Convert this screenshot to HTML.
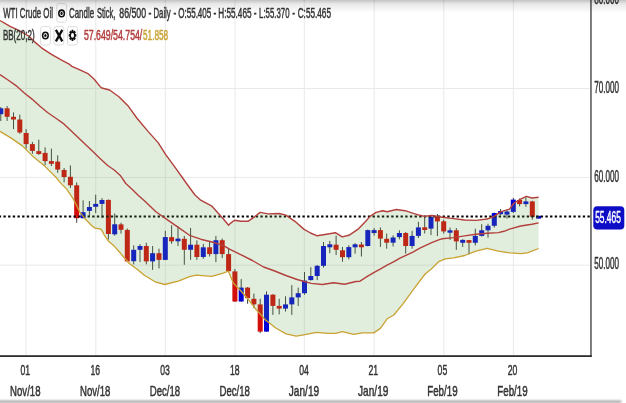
<!DOCTYPE html>
<html lang="en"><head><meta charset="utf-8"><title>WTI Crude Oil</title>
<style>
html,body{margin:0;padding:0;background:#fff;}
body{width:626px;height:403px;overflow:hidden;position:relative;font-family:"Liberation Sans",sans-serif;}
svg{position:absolute;left:0;top:0;display:block;}
text{font-family:"Liberation Sans",sans-serif;}
</style></head><body>
<svg width="626" height="403" viewBox="0 0 626 403">
<defs>
<linearGradient id="topsh" x1="0" y1="0" x2="0" y2="1"><stop offset="0" stop-color="#000" stop-opacity="0.24"/><stop offset="0.3" stop-color="#000" stop-opacity="0.09"/><stop offset="1" stop-color="#000" stop-opacity="0"/></linearGradient>
<filter id="soft" x="-5%" y="-5%" width="110%" height="110%"><feGaussianBlur stdDeviation="0.55"/></filter>
<filter id="bsh" x="-5%" y="-200%" width="110%" height="500%"><feGaussianBlur stdDeviation="0.8"/></filter>
</defs>
<rect width="626" height="403" fill="#fff"/>
<g filter="url(#soft)">

<g stroke="#e9e9e9" stroke-width="1" fill="none">
<line x1="26.1" y1="0" x2="26.1" y2="355"/>
<line x1="95.8" y1="0" x2="95.8" y2="355"/>
<line x1="165.3" y1="0" x2="165.3" y2="355"/>
<line x1="235" y1="0" x2="235" y2="355"/>
<line x1="304.3" y1="0" x2="304.3" y2="355"/>
<line x1="374.2" y1="0" x2="374.2" y2="355"/>
<line x1="443.8" y1="0" x2="443.8" y2="355"/>
<line x1="513.4" y1="0" x2="513.4" y2="355"/>
<line x1="0" y1="88.5" x2="590" y2="88.5"/>
<line x1="0" y1="177.4" x2="590" y2="177.4"/>
<line x1="0" y1="265.2" x2="590" y2="265.2"/>
</g>
<g>
<line x1="0.8" y1="107.0" x2="0.8" y2="121.0" stroke="#3c3c3c" stroke-width="1"/>
<rect x="-1.7" y="108.3" width="5.0" height="5.9" fill="#0505d6"/>
<line x1="7.1" y1="106.1" x2="7.1" y2="120.9" stroke="#3c3c3c" stroke-width="1"/>
<rect x="4.6" y="108.3" width="5.0" height="8.5" fill="#d40808"/>
<line x1="13.5" y1="112.4" x2="13.5" y2="129.1" stroke="#3c3c3c" stroke-width="1"/>
<rect x="11.0" y="116.8" width="5.0" height="2.7" fill="#d40808"/>
<line x1="19.8" y1="114.6" x2="19.8" y2="133.8" stroke="#3c3c3c" stroke-width="1"/>
<rect x="17.3" y="119.5" width="5.0" height="13.0" fill="#d40808"/>
<line x1="26.1" y1="129.1" x2="26.1" y2="148.6" stroke="#3c3c3c" stroke-width="1"/>
<rect x="23.6" y="133.0" width="5.0" height="11.1" fill="#d40808"/>
<line x1="32.4" y1="141.9" x2="32.4" y2="153.8" stroke="#3c3c3c" stroke-width="1"/>
<rect x="29.9" y="144.1" width="5.0" height="6.8" fill="#d40808"/>
<line x1="38.8" y1="139.7" x2="38.8" y2="154.9" stroke="#3c3c3c" stroke-width="1"/>
<rect x="36.3" y="151.1" width="5.0" height="2.9" fill="#d40808"/>
<line x1="45.1" y1="147.3" x2="45.1" y2="165.2" stroke="#3c3c3c" stroke-width="1"/>
<rect x="42.6" y="152.9" width="5.0" height="8.2" fill="#d40808"/>
<line x1="51.4" y1="148.6" x2="51.4" y2="166.0" stroke="#3c3c3c" stroke-width="1"/>
<rect x="48.9" y="161.1" width="5.0" height="2.7" fill="#d40808"/>
<line x1="57.7" y1="155.3" x2="57.7" y2="172.8" stroke="#3c3c3c" stroke-width="1"/>
<rect x="55.2" y="161.6" width="5.0" height="8.0" fill="#d40808"/>
<line x1="64.1" y1="168.0" x2="64.1" y2="182.4" stroke="#3c3c3c" stroke-width="1"/>
<rect x="61.6" y="170.0" width="5.0" height="7.0" fill="#d40808"/>
<line x1="70.4" y1="165.4" x2="70.4" y2="188.0" stroke="#3c3c3c" stroke-width="1"/>
<rect x="67.9" y="176.8" width="5.0" height="8.5" fill="#d40808"/>
<line x1="76.7" y1="182.4" x2="76.7" y2="222.7" stroke="#3c3c3c" stroke-width="1"/>
<rect x="74.2" y="185.3" width="5.0" height="32.9" fill="#d40808"/>
<line x1="83.1" y1="200.3" x2="83.1" y2="218.5" stroke="#3c3c3c" stroke-width="1"/>
<rect x="80.6" y="212.2" width="5.0" height="6.0" fill="#0505d6"/>
<line x1="89.4" y1="201.0" x2="89.4" y2="216.0" stroke="#3c3c3c" stroke-width="1"/>
<rect x="86.9" y="207.0" width="5.0" height="3.9" fill="#0505d6"/>
<line x1="95.7" y1="194.7" x2="95.7" y2="213.1" stroke="#3c3c3c" stroke-width="1"/>
<rect x="93.2" y="203.9" width="5.0" height="2.9" fill="#0505d6"/>
<line x1="102.0" y1="198.1" x2="102.0" y2="218.2" stroke="#3c3c3c" stroke-width="1"/>
<rect x="99.5" y="200.0" width="5.0" height="3.9" fill="#0505d6"/>
<line x1="108.4" y1="199.5" x2="108.4" y2="239.5" stroke="#3c3c3c" stroke-width="1"/>
<rect x="105.9" y="199.9" width="5.0" height="34.1" fill="#d40808"/>
<line x1="114.7" y1="213.5" x2="114.7" y2="235.7" stroke="#3c3c3c" stroke-width="1"/>
<rect x="112.2" y="224.3" width="5.0" height="10.0" fill="#0505d6"/>
<line x1="121.0" y1="222.7" x2="121.0" y2="233.7" stroke="#3c3c3c" stroke-width="1"/>
<rect x="118.5" y="224.4" width="5.0" height="5.4" fill="#d40808"/>
<line x1="127.3" y1="228.5" x2="127.3" y2="262.0" stroke="#3c3c3c" stroke-width="1"/>
<rect x="124.8" y="229.9" width="5.0" height="31.5" fill="#d40808"/>
<line x1="133.7" y1="245.3" x2="133.7" y2="264.4" stroke="#3c3c3c" stroke-width="1"/>
<rect x="131.2" y="249.8" width="5.0" height="11.4" fill="#0505d6"/>
<line x1="140.0" y1="244.2" x2="140.0" y2="262.1" stroke="#3c3c3c" stroke-width="1"/>
<rect x="137.5" y="246.0" width="5.0" height="3.8" fill="#0505d6"/>
<line x1="146.3" y1="242.7" x2="146.3" y2="264.4" stroke="#3c3c3c" stroke-width="1"/>
<rect x="143.8" y="246.0" width="5.0" height="15.4" fill="#d40808"/>
<line x1="152.6" y1="246.0" x2="152.6" y2="269.9" stroke="#3c3c3c" stroke-width="1"/>
<rect x="150.1" y="253.2" width="5.0" height="8.2" fill="#0505d6"/>
<line x1="159.0" y1="248.7" x2="159.0" y2="268.4" stroke="#3c3c3c" stroke-width="1"/>
<rect x="156.5" y="253.2" width="5.0" height="6.7" fill="#d40808"/>
<line x1="165.3" y1="230.8" x2="165.3" y2="260.2" stroke="#3c3c3c" stroke-width="1"/>
<rect x="162.8" y="237.1" width="5.0" height="22.8" fill="#0505d6"/>
<line x1="171.6" y1="225.2" x2="171.6" y2="243.8" stroke="#3c3c3c" stroke-width="1"/>
<rect x="169.1" y="237.1" width="5.0" height="4.2" fill="#d40808"/>
<line x1="178.0" y1="226.3" x2="178.0" y2="246.0" stroke="#3c3c3c" stroke-width="1"/>
<rect x="175.5" y="238.6" width="5.0" height="2.7" fill="#0505d6"/>
<line x1="184.3" y1="235.9" x2="184.3" y2="264.8" stroke="#3c3c3c" stroke-width="1"/>
<rect x="181.8" y="238.8" width="5.0" height="11.0" fill="#d40808"/>
<line x1="190.6" y1="227.9" x2="190.6" y2="259.9" stroke="#3c3c3c" stroke-width="1"/>
<rect x="188.1" y="244.7" width="5.0" height="5.1" fill="#0505d6"/>
<line x1="196.9" y1="240.4" x2="196.9" y2="259.9" stroke="#3c3c3c" stroke-width="1"/>
<rect x="194.4" y="244.7" width="5.0" height="12.3" fill="#d40808"/>
<line x1="203.3" y1="243.8" x2="203.3" y2="258.8" stroke="#3c3c3c" stroke-width="1"/>
<rect x="200.8" y="247.3" width="5.0" height="9.7" fill="#0505d6"/>
<line x1="209.6" y1="240.9" x2="209.6" y2="256.5" stroke="#3c3c3c" stroke-width="1"/>
<rect x="207.1" y="247.3" width="5.0" height="6.8" fill="#d40808"/>
<line x1="215.9" y1="235.9" x2="215.9" y2="262.1" stroke="#3c3c3c" stroke-width="1"/>
<rect x="213.4" y="240.2" width="5.0" height="13.9" fill="#0505d6"/>
<line x1="222.2" y1="238.6" x2="222.2" y2="258.1" stroke="#3c3c3c" stroke-width="1"/>
<rect x="219.7" y="240.2" width="5.0" height="13.9" fill="#d40808"/>
<line x1="228.6" y1="248.7" x2="228.6" y2="272.0" stroke="#3c3c3c" stroke-width="1"/>
<rect x="226.1" y="254.1" width="5.0" height="17.1" fill="#d40808"/>
<line x1="234.9" y1="269.0" x2="234.9" y2="302.0" stroke="#3c3c3c" stroke-width="1"/>
<rect x="232.4" y="271.4" width="5.0" height="30.1" fill="#d40808"/>
<line x1="241.2" y1="279.1" x2="241.2" y2="301.8" stroke="#3c3c3c" stroke-width="1"/>
<rect x="238.7" y="287.6" width="5.0" height="13.9" fill="#0505d6"/>
<line x1="247.6" y1="287.0" x2="247.6" y2="303.7" stroke="#3c3c3c" stroke-width="1"/>
<rect x="245.1" y="287.6" width="5.0" height="10.5" fill="#d40808"/>
<line x1="253.9" y1="293.6" x2="253.9" y2="308.2" stroke="#3c3c3c" stroke-width="1"/>
<rect x="251.4" y="298.8" width="5.0" height="5.6" fill="#d40808"/>
<line x1="260.2" y1="298.8" x2="260.2" y2="333.0" stroke="#3c3c3c" stroke-width="1"/>
<rect x="257.7" y="304.4" width="5.0" height="27.2" fill="#d40808"/>
<line x1="266.5" y1="291.4" x2="266.5" y2="331.9" stroke="#3c3c3c" stroke-width="1"/>
<rect x="264.0" y="294.7" width="5.0" height="36.9" fill="#0505d6"/>
<line x1="272.9" y1="294.2" x2="272.9" y2="314.9" stroke="#3c3c3c" stroke-width="1"/>
<rect x="270.4" y="294.7" width="5.0" height="11.2" fill="#d40808"/>
<line x1="279.2" y1="298.8" x2="279.2" y2="314.4" stroke="#3c3c3c" stroke-width="1"/>
<rect x="276.7" y="305.9" width="5.0" height="2.7" fill="#d40808"/>
<line x1="285.5" y1="296.3" x2="285.5" y2="311.5" stroke="#3c3c3c" stroke-width="1"/>
<rect x="283.0" y="304.4" width="5.0" height="4.2" fill="#0505d6"/>
<line x1="291.8" y1="285.1" x2="291.8" y2="314.9" stroke="#3c3c3c" stroke-width="1"/>
<rect x="289.3" y="297.4" width="5.0" height="7.0" fill="#0505d6"/>
<line x1="298.2" y1="287.6" x2="298.2" y2="305.9" stroke="#3c3c3c" stroke-width="1"/>
<rect x="295.7" y="293.2" width="5.0" height="4.2" fill="#0505d6"/>
<line x1="304.5" y1="272.0" x2="304.5" y2="294.7" stroke="#3c3c3c" stroke-width="1"/>
<rect x="302.0" y="280.6" width="5.0" height="12.6" fill="#0505d6"/>
<line x1="310.8" y1="267.2" x2="310.8" y2="280.5" stroke="#3c3c3c" stroke-width="1"/>
<rect x="308.3" y="276.0" width="5.0" height="4.1" fill="#0505d6"/>
<line x1="317.2" y1="265.0" x2="317.2" y2="280.1" stroke="#3c3c3c" stroke-width="1"/>
<rect x="314.7" y="265.8" width="5.0" height="10.2" fill="#0505d6"/>
<line x1="323.5" y1="242.0" x2="323.5" y2="267.6" stroke="#3c3c3c" stroke-width="1"/>
<rect x="321.0" y="246.0" width="5.0" height="19.8" fill="#0505d6"/>
<line x1="329.8" y1="240.9" x2="329.8" y2="253.2" stroke="#3c3c3c" stroke-width="1"/>
<rect x="327.3" y="244.3" width="5.0" height="3.0" fill="#0505d6"/>
<line x1="336.1" y1="235.7" x2="336.1" y2="255.0" stroke="#3c3c3c" stroke-width="1"/>
<rect x="333.6" y="244.7" width="5.0" height="5.1" fill="#d40808"/>
<line x1="342.5" y1="246.9" x2="342.5" y2="261.7" stroke="#3c3c3c" stroke-width="1"/>
<rect x="340.0" y="250.3" width="5.0" height="6.9" fill="#d40808"/>
<line x1="348.8" y1="245.3" x2="348.8" y2="259.4" stroke="#3c3c3c" stroke-width="1"/>
<rect x="346.3" y="247.1" width="5.0" height="10.1" fill="#0505d6"/>
<line x1="355.1" y1="243.1" x2="355.1" y2="253.6" stroke="#3c3c3c" stroke-width="1"/>
<rect x="352.6" y="244.3" width="5.0" height="3.0" fill="#0505d6"/>
<line x1="361.4" y1="242.0" x2="361.4" y2="256.5" stroke="#3c3c3c" stroke-width="1"/>
<rect x="358.9" y="244.5" width="5.0" height="2.8" fill="#d40808"/>
<line x1="367.8" y1="229.5" x2="367.8" y2="246.4" stroke="#3c3c3c" stroke-width="1"/>
<rect x="365.3" y="230.1" width="5.0" height="15.9" fill="#0505d6"/>
<line x1="374.1" y1="228.1" x2="374.1" y2="235.7" stroke="#3c3c3c" stroke-width="1"/>
<rect x="371.6" y="230.1" width="5.0" height="2.9" fill="#0505d6"/>
<line x1="380.4" y1="227.4" x2="380.4" y2="246.9" stroke="#3c3c3c" stroke-width="1"/>
<rect x="377.9" y="230.1" width="5.0" height="8.5" fill="#d40808"/>
<line x1="386.7" y1="233.5" x2="386.7" y2="248.7" stroke="#3c3c3c" stroke-width="1"/>
<rect x="384.2" y="238.8" width="5.0" height="3.9" fill="#d40808"/>
<line x1="393.1" y1="235.3" x2="393.1" y2="246.5" stroke="#3c3c3c" stroke-width="1"/>
<rect x="390.6" y="237.5" width="5.0" height="5.2" fill="#0505d6"/>
<line x1="399.4" y1="230.3" x2="399.4" y2="239.3" stroke="#3c3c3c" stroke-width="1"/>
<rect x="396.9" y="233.0" width="5.0" height="4.1" fill="#0505d6"/>
<line x1="405.7" y1="231.9" x2="405.7" y2="253.6" stroke="#3c3c3c" stroke-width="1"/>
<rect x="403.2" y="233.0" width="5.0" height="13.0" fill="#d40808"/>
<line x1="412.1" y1="230.8" x2="412.1" y2="248.7" stroke="#3c3c3c" stroke-width="1"/>
<rect x="409.6" y="235.9" width="5.0" height="10.1" fill="#0505d6"/>
<line x1="418.4" y1="221.8" x2="418.4" y2="238.0" stroke="#3c3c3c" stroke-width="1"/>
<rect x="415.9" y="227.4" width="5.0" height="8.5" fill="#0505d6"/>
<line x1="424.7" y1="216.3" x2="424.7" y2="233.5" stroke="#3c3c3c" stroke-width="1"/>
<rect x="422.2" y="227.3" width="5.0" height="2.7" fill="#d40808"/>
<line x1="431.0" y1="215.8" x2="431.0" y2="235.1" stroke="#3c3c3c" stroke-width="1"/>
<rect x="428.5" y="216.8" width="5.0" height="11.8" fill="#0505d6"/>
<line x1="437.4" y1="214.0" x2="437.4" y2="236.1" stroke="#3c3c3c" stroke-width="1"/>
<rect x="434.9" y="216.8" width="5.0" height="4.6" fill="#d40808"/>
<line x1="443.7" y1="219.7" x2="443.7" y2="233.6" stroke="#3c3c3c" stroke-width="1"/>
<rect x="441.2" y="221.3" width="5.0" height="10.1" fill="#d40808"/>
<line x1="450.0" y1="227.6" x2="450.0" y2="239.9" stroke="#3c3c3c" stroke-width="1"/>
<rect x="447.5" y="230.3" width="5.0" height="2.4" fill="#0505d6"/>
<line x1="456.3" y1="228.0" x2="456.3" y2="249.9" stroke="#3c3c3c" stroke-width="1"/>
<rect x="453.8" y="230.3" width="5.0" height="11.1" fill="#d40808"/>
<line x1="462.7" y1="239.2" x2="462.7" y2="247.0" stroke="#3c3c3c" stroke-width="1"/>
<rect x="460.2" y="239.9" width="5.0" height="2.9" fill="#0505d6"/>
<line x1="469.0" y1="239.9" x2="469.0" y2="254.4" stroke="#3c3c3c" stroke-width="1"/>
<rect x="466.5" y="240.1" width="5.0" height="2.7" fill="#d40808"/>
<line x1="475.3" y1="228.7" x2="475.3" y2="245.5" stroke="#3c3c3c" stroke-width="1"/>
<rect x="472.8" y="235.9" width="5.0" height="6.9" fill="#0505d6"/>
<line x1="481.7" y1="224.2" x2="481.7" y2="236.5" stroke="#3c3c3c" stroke-width="1"/>
<rect x="479.2" y="230.3" width="5.0" height="5.6" fill="#0505d6"/>
<line x1="488.0" y1="223.8" x2="488.0" y2="237.6" stroke="#3c3c3c" stroke-width="1"/>
<rect x="485.5" y="225.8" width="5.0" height="4.5" fill="#0505d6"/>
<line x1="494.3" y1="212.6" x2="494.3" y2="227.6" stroke="#3c3c3c" stroke-width="1"/>
<rect x="491.8" y="213.0" width="5.0" height="12.8" fill="#0505d6"/>
<line x1="500.6" y1="209.0" x2="500.6" y2="215.3" stroke="#3c3c3c" stroke-width="1"/>
<rect x="498.1" y="211.0" width="5.0" height="3.2" fill="#0505d6"/>
<line x1="507.0" y1="210.3" x2="507.0" y2="218.6" stroke="#3c3c3c" stroke-width="1"/>
<rect x="504.5" y="211.5" width="5.0" height="3.1" fill="#0505d6"/>
<line x1="513.3" y1="197.8" x2="513.3" y2="213.0" stroke="#3c3c3c" stroke-width="1"/>
<rect x="510.8" y="199.6" width="5.0" height="12.3" fill="#0505d6"/>
<line x1="519.6" y1="198.5" x2="519.6" y2="206.3" stroke="#3c3c3c" stroke-width="1"/>
<rect x="517.1" y="200.0" width="5.0" height="4.1" fill="#d40808"/>
<line x1="525.9" y1="197.4" x2="525.9" y2="206.8" stroke="#3c3c3c" stroke-width="1"/>
<rect x="523.4" y="201.4" width="5.0" height="2.7" fill="#0505d6"/>
<line x1="532.3" y1="200.7" x2="532.3" y2="219.7" stroke="#3c3c3c" stroke-width="1"/>
<rect x="529.8" y="201.4" width="5.0" height="15.4" fill="#d40808"/>
<line x1="538.6" y1="215.8" x2="538.6" y2="218.6" stroke="#3c3c3c" stroke-width="1"/>
<rect x="536.1" y="215.8" width="5.0" height="2.8" fill="#0505d6"/>
</g>
<line x1="-1.24" y1="216.5" x2="590.5" y2="216.5" stroke="#000" stroke-width="2" stroke-dasharray="2.34 2.332"/>
<polygon points="0.0,20.5 9.6,26.2 19.2,30.6 28.7,36.0 34.3,41.6 41.5,47.8 51.1,54.2 60.7,59.6 68.7,63.8 71.9,66.4 79.9,69.9 87.9,73.6 94.2,79.2 100.0,86.4 101.8,88.0 109.6,90.0 118.9,96.7 127.9,105.7 136.8,118.0 148.0,131.4 158.1,142.6 165.9,154.9 174.9,167.2 183.0,178.5 189.8,188.0 195.0,195.0 200.7,200.2 211.9,206.2 223.0,218.5 228.6,225.2 230.0,223.6 234.5,220.2 241.2,221.3 247.9,221.3 254.6,216.8 260.2,212.4 268.0,213.9 279.2,213.5 285.9,215.1 294.9,221.3 303.8,229.1 310.5,233.0 317.2,235.8 326.5,234.3 335.4,232.7 342.2,236.9 348.9,235.3 357.8,229.4 365.5,221.5 370.0,216.4 376.1,212.4 382.8,210.7 387.2,211.8 396.2,209.5 405.1,210.7 414.1,213.6 420.0,215.3 424.5,216.4 431.2,215.5 442.4,217.3 453.6,218.6 464.7,220.0 475.9,220.4 487.1,219.0 493.8,216.6 500.5,211.9 509.5,209.2 514.0,203.0 520.7,199.2 526.3,196.3 531.9,198.0 538.6,197.3 538.6,248.5 527.4,252.9 520.7,253.7 509.5,252.9 498.3,251.1 487.1,248.4 475.9,251.1 464.7,255.5 453.6,257.8 445.3,258.8 438.6,261.7 431.9,268.4 425.1,274.0 414.0,288.6 402.8,304.2 393.8,315.0 387.1,318.8 380.4,328.4 373.7,332.9 362.5,332.9 353.6,334.4 342.4,331.7 335.7,333.3 327.5,333.4 316.3,332.3 305.1,334.6 296.2,336.1 286.1,333.9 276.1,328.3 264.9,319.4 255.9,309.3 248.1,299.2 240.3,290.3 233.6,283.5 228.3,271.2 222.4,273.3 211.9,276.4 196.2,275.1 189.5,276.7 178.3,281.1 164.9,284.5 155.9,282.2 144.7,275.5 138.0,269.9 129.1,263.2 124.5,258.0 120.6,253.3 114.2,246.1 108.6,241.3 104.6,235.7 102.2,230.9 100.6,229.0 95.0,228.2 91.3,225.2 84.6,218.2 80.1,212.6 73.4,199.2 66.7,189.1 60.0,182.4 55.9,177.2 44.7,166.1 33.6,157.1 22.4,145.9 11.2,138.1 0.0,131.4" fill="#68a854" fill-opacity="0.2"/>
<polyline points="0.0,20.5 9.6,26.2 19.2,30.6 28.7,36.0 34.3,41.6 41.5,47.8 51.1,54.2 60.7,59.6 68.7,63.8 71.9,66.4 79.9,69.9 87.9,73.6 94.2,79.2 100.0,86.4 101.8,88.0 109.6,90.0 118.9,96.7 127.9,105.7 136.8,118.0 148.0,131.4 158.1,142.6 165.9,154.9 174.9,167.2 183.0,178.5 189.8,188.0 195.0,195.0 200.7,200.2 211.9,206.2 223.0,218.5 228.6,225.2 230.0,223.6 234.5,220.2 241.2,221.3 247.9,221.3 254.6,216.8 260.2,212.4 268.0,213.9 279.2,213.5 285.9,215.1 294.9,221.3 303.8,229.1 310.5,233.0 317.2,235.8 326.5,234.3 335.4,232.7 342.2,236.9 348.9,235.3 357.8,229.4 365.5,221.5 370.0,216.4 376.1,212.4 382.8,210.7 387.2,211.8 396.2,209.5 405.1,210.7 414.1,213.6 420.0,215.3 424.5,216.4 431.2,215.5 442.4,217.3 453.6,218.6 464.7,220.0 475.9,220.4 487.1,219.0 493.8,216.6 500.5,211.9 509.5,209.2 514.0,203.0 520.7,199.2 526.3,196.3 531.9,198.0 538.6,197.3" fill="none" stroke="#b2403c" stroke-width="1.4" stroke-linejoin="round"/>
<polyline points="0.0,74.7 8.0,80.0 16.0,85.6 24.0,92.7 32.0,99.1 40.0,106.3 47.9,112.7 55.9,118.3 63.9,123.9 91.3,150.0 100.0,158.4 107.7,165.5 114.2,170.0 120.6,175.8 125.8,183.5 132.3,189.4 138.7,195.8 145.2,201.6 155.9,211.8 167.1,219.6 178.3,227.4 189.5,235.3 200.7,239.2 211.9,242.0 223.0,245.3 230.0,249.3 241.2,254.9 252.4,260.5 263.6,267.0 274.7,271.0 285.9,275.5 297.1,279.5 311.2,283.4 322.4,284.5 333.6,282.7 344.7,284.2 355.9,281.5 360.0,281.2 367.7,276.2 374.2,272.3 380.6,268.9 387.1,265.2 393.5,261.9 400.0,258.1 406.5,255.1 412.9,252.1 419.4,248.4 425.8,245.4 432.3,242.3 440.0,239.4 442.4,238.8 453.6,237.6 464.7,235.9 475.9,234.3 487.1,233.2 498.3,232.6 504.0,231.3 509.5,229.2 520.7,226.0 531.9,224.2 538.6,222.9" fill="none" stroke="#b2403c" stroke-width="1.4" stroke-linejoin="round"/>
<polyline points="0.0,131.4 11.2,138.1 22.4,145.9 33.6,157.1 44.7,166.1 55.9,177.2 60.0,182.4 66.7,189.1 73.4,199.2 80.1,212.6 84.6,218.2 91.3,225.2 95.0,228.2 100.6,229.0 102.2,230.9 104.6,235.7 108.6,241.3 114.2,246.1 120.6,253.3 124.5,258.0 129.1,263.2 138.0,269.9 144.7,275.5 155.9,282.2 164.9,284.5 178.3,281.1 189.5,276.7 196.2,275.1 211.9,276.4 222.4,273.3 228.3,271.2 233.6,283.5 240.3,290.3 248.1,299.2 255.9,309.3 264.9,319.4 276.1,328.3 286.1,333.9 296.2,336.1 305.1,334.6 316.3,332.3 327.5,333.4 335.7,333.3 342.4,331.7 353.6,334.4 362.5,332.9 373.7,332.9 380.4,328.4 387.1,318.8 393.8,315.0 402.8,304.2 414.0,288.6 425.1,274.0 431.9,268.4 438.6,261.7 445.3,258.8 453.6,257.8 464.7,255.5 475.9,251.1 487.1,248.4 498.3,251.1 509.5,252.9 520.7,253.7 527.4,252.9 538.6,248.5" fill="none" stroke="#c9a233" stroke-width="1.3" stroke-linejoin="round"/>
<rect x="590.1" y="0" width="1.7" height="357" fill="#686868"/>
<rect x="0" y="355.2" width="591.8" height="1.8" fill="#2e2e2e"/>
<text x="594.2" y="3.5" font-size="15.8" fill="#343434" stroke="#343434" stroke-width="0.5" textLength="24.8" lengthAdjust="spacingAndGlyphs" text-anchor="start">80.000</text>
<text x="594.2" y="93" font-size="15.8" fill="#343434" stroke="#343434" stroke-width="0.5" textLength="24.8" lengthAdjust="spacingAndGlyphs" text-anchor="start">70.000</text>
<text x="594.2" y="181.9" font-size="15.8" fill="#343434" stroke="#343434" stroke-width="0.5" textLength="24.8" lengthAdjust="spacingAndGlyphs" text-anchor="start">60.000</text>
<text x="594.2" y="269.2" font-size="15.8" fill="#343434" stroke="#343434" stroke-width="0.5" textLength="24.8" lengthAdjust="spacingAndGlyphs" text-anchor="start">50.000</text>
<rect x="593.3" y="206.2" width="31" height="23.2" rx="4" ry="4" fill="#0a0ac6"/>
<text x="595.2" y="222.9" font-size="15.6" fill="#fff" stroke="#fff" stroke-width="0.5" textLength="25.6" lengthAdjust="spacingAndGlyphs" text-anchor="start">55.465</text>
<text x="25.3" y="374.8" font-size="15" fill="#343434" stroke="#343434" stroke-width="0.5" textLength="9.6" lengthAdjust="spacingAndGlyphs" text-anchor="middle">01</text>
<text x="25.3" y="396.4" font-size="15" fill="#343434" stroke="#343434" stroke-width="0.5" textLength="30.4" lengthAdjust="spacingAndGlyphs" text-anchor="middle">Nov/18</text>
<text x="95.2" y="374.8" font-size="15" fill="#343434" stroke="#343434" stroke-width="0.5" textLength="9.6" lengthAdjust="spacingAndGlyphs" text-anchor="middle">16</text>
<text x="95.2" y="396.4" font-size="15" fill="#343434" stroke="#343434" stroke-width="0.5" textLength="30.4" lengthAdjust="spacingAndGlyphs" text-anchor="middle">Nov/18</text>
<text x="165.0" y="374.8" font-size="15" fill="#343434" stroke="#343434" stroke-width="0.5" textLength="9.6" lengthAdjust="spacingAndGlyphs" text-anchor="middle">03</text>
<text x="165.0" y="396.4" font-size="15" fill="#343434" stroke="#343434" stroke-width="0.5" textLength="30.4" lengthAdjust="spacingAndGlyphs" text-anchor="middle">Dec/18</text>
<text x="234.7" y="374.8" font-size="15" fill="#343434" stroke="#343434" stroke-width="0.5" textLength="9.6" lengthAdjust="spacingAndGlyphs" text-anchor="middle">18</text>
<text x="234.7" y="396.4" font-size="15" fill="#343434" stroke="#343434" stroke-width="0.5" textLength="30.4" lengthAdjust="spacingAndGlyphs" text-anchor="middle">Dec/18</text>
<text x="304.0" y="374.8" font-size="15" fill="#343434" stroke="#343434" stroke-width="0.5" textLength="9.6" lengthAdjust="spacingAndGlyphs" text-anchor="middle">04</text>
<text x="304.0" y="396.4" font-size="15" fill="#343434" stroke="#343434" stroke-width="0.5" textLength="30.4" lengthAdjust="spacingAndGlyphs" text-anchor="middle">Jan/19</text>
<text x="373.2" y="374.8" font-size="15" fill="#343434" stroke="#343434" stroke-width="0.5" textLength="9.6" lengthAdjust="spacingAndGlyphs" text-anchor="middle">21</text>
<text x="373.2" y="396.4" font-size="15" fill="#343434" stroke="#343434" stroke-width="0.5" textLength="30.4" lengthAdjust="spacingAndGlyphs" text-anchor="middle">Jan/19</text>
<text x="442.4" y="374.8" font-size="15" fill="#343434" stroke="#343434" stroke-width="0.5" textLength="9.6" lengthAdjust="spacingAndGlyphs" text-anchor="middle">05</text>
<text x="442.4" y="396.4" font-size="15" fill="#343434" stroke="#343434" stroke-width="0.5" textLength="30.4" lengthAdjust="spacingAndGlyphs" text-anchor="middle">Feb/19</text>
<text x="512.5" y="374.8" font-size="15" fill="#343434" stroke="#343434" stroke-width="0.5" textLength="9.6" lengthAdjust="spacingAndGlyphs" text-anchor="middle">20</text>
<text x="512.5" y="396.4" font-size="15" fill="#343434" stroke="#343434" stroke-width="0.5" textLength="30.4" lengthAdjust="spacingAndGlyphs" text-anchor="middle">Feb/19</text>
<text x="3.2" y="18.2" font-size="14.4" fill="#343434" stroke="#343434" stroke-width="0.5" textLength="49.7" lengthAdjust="spacingAndGlyphs" text-anchor="start">WTI Crude Oil</text>
<text x="68.9" y="18.4" font-size="14.4" fill="#343434" stroke="#343434" stroke-width="0.5" textLength="25.2" lengthAdjust="spacingAndGlyphs" text-anchor="start">Candle</text>
<text x="96.9" y="18.4" font-size="14.4" fill="#343434" stroke="#343434" stroke-width="0.5" textLength="18.4" lengthAdjust="spacingAndGlyphs" text-anchor="start">Stick,</text>
<text x="119.3" y="18.4" font-size="14.4" fill="#343434" stroke="#343434" stroke-width="0.5" textLength="26.8" lengthAdjust="spacingAndGlyphs" text-anchor="start">86/500</text>
<text x="148.4" y="18.4" font-size="14.4" fill="#343434" stroke="#343434" stroke-width="0.5" textLength="2.9" lengthAdjust="spacingAndGlyphs" text-anchor="start">-</text>
<text x="153.5" y="18.4" font-size="14.4" fill="#343434" stroke="#343434" stroke-width="0.5" textLength="17.2" lengthAdjust="spacingAndGlyphs" text-anchor="start">Daily</text>
<text x="173.6" y="18.4" font-size="14.4" fill="#343434" stroke="#343434" stroke-width="0.5" textLength="2.8" lengthAdjust="spacingAndGlyphs" text-anchor="start">-</text>
<text x="178.2" y="18.4" font-size="14.4" fill="#343434" stroke="#343434" stroke-width="0.5" textLength="33.1" lengthAdjust="spacingAndGlyphs" text-anchor="start">O:55.405</text>
<text x="213.5" y="18.4" font-size="14.4" fill="#343434" stroke="#343434" stroke-width="0.5" textLength="2.8" lengthAdjust="spacingAndGlyphs" text-anchor="start">-</text>
<text x="218.3" y="18.4" font-size="14.4" fill="#343434" stroke="#343434" stroke-width="0.5" textLength="33.2" lengthAdjust="spacingAndGlyphs" text-anchor="start">H:55.465</text>
<text x="253.7" y="18.4" font-size="14.4" fill="#343434" stroke="#343434" stroke-width="0.5" textLength="2.8" lengthAdjust="spacingAndGlyphs" text-anchor="start">-</text>
<text x="259.1" y="18.4" font-size="14.4" fill="#343434" stroke="#343434" stroke-width="0.5" textLength="30.4" lengthAdjust="spacingAndGlyphs" text-anchor="start">L:55.370</text>
<text x="292.2" y="18.4" font-size="14.4" fill="#343434" stroke="#343434" stroke-width="0.5" textLength="2.8" lengthAdjust="spacingAndGlyphs" text-anchor="start">-</text>
<text x="297.7" y="18.4" font-size="14.4" fill="#343434" stroke="#343434" stroke-width="0.5" textLength="33.3" lengthAdjust="spacingAndGlyphs" text-anchor="start">C:55.465</text>
<text x="2.9" y="39.6" font-size="14.4" fill="#343434" stroke="#343434" stroke-width="0.5" textLength="31.7" lengthAdjust="spacingAndGlyphs" text-anchor="start">BB(20;2)</text>
<text x="83.9" y="40" font-size="14.4" fill="#b23c3c" stroke="#b23c3c" stroke-width="0.5" textLength="58.4" lengthAdjust="spacingAndGlyphs" text-anchor="start">57.649/54.754/</text>
<text x="143" y="40" font-size="14.4" fill="#c9a233" stroke="#c9a233" stroke-width="0.5" textLength="25.1" lengthAdjust="spacingAndGlyphs" text-anchor="start">51.858</text>
<rect x="56.8" y="3.6" width="9.8" height="18.6" rx="2" ry="2" fill="#fff" stroke="#dcdcdc" stroke-width="1"/>
<rect x="40.6" y="26.6" width="9.8" height="18.4" rx="2" ry="2" fill="#fff" stroke="#dcdcdc" stroke-width="1"/>
<rect x="54" y="26.6" width="9.8" height="18.4" rx="2" ry="2" fill="#fff" stroke="#dcdcdc" stroke-width="1"/>
<rect x="67.5" y="26.6" width="9.8" height="18.4" rx="2" ry="2" fill="#fff" stroke="#dcdcdc" stroke-width="1"/>
<ellipse cx="61.6" cy="13.4" rx="3.55" ry="4.1" fill="#111"/>
<ellipse cx="61.6" cy="13.4" rx="2.0" ry="2.5" fill="#fff"/>
<ellipse cx="61.6" cy="13.4" rx="1.15" ry="1.6" fill="#111"/>
<ellipse cx="45.4" cy="35.5" rx="3.55" ry="4.1" fill="#111"/>
<ellipse cx="45.4" cy="35.5" rx="2.0" ry="2.5" fill="#fff"/>
<ellipse cx="45.4" cy="35.5" rx="1.15" ry="1.6" fill="#111"/>
<g stroke="#111" stroke-width="2.3" stroke-linecap="butt"><line x1="55.9" y1="29.9" x2="62.3" y2="41.4"/><line x1="62.3" y1="29.9" x2="55.9" y2="41.4"/></g>
<polygon points="71.6,29.8 73.4,29.8 73.5,31.3 73.7,31.5 74.6,30.6 75.8,32.3 75.1,33.5 75.2,34.0 76.3,34.2 76.3,36.6 75.2,36.8 75.1,37.3 75.8,38.5 74.6,40.2 73.7,39.3 73.5,39.5 73.4,41.0 71.6,41.0 71.5,39.5 71.3,39.3 70.4,40.2 69.2,38.5 69.9,37.3 69.8,36.8 68.7,36.6 68.7,34.2 69.8,34.0 69.9,33.5 69.2,32.3 70.4,30.6 71.3,31.5 71.5,31.3" fill="#111"/>
<ellipse cx="72.5" cy="35.4" rx="1.55" ry="2.3" fill="#fff"/>
</g>
<rect x="0" y="0" width="626" height="13" fill="url(#topsh)"/>
<g filter="url(#bsh)"><rect x="-5" y="400.7" width="626.3" height="1.9" fill="#8a8a8a"/></g>
</svg></body></html>
